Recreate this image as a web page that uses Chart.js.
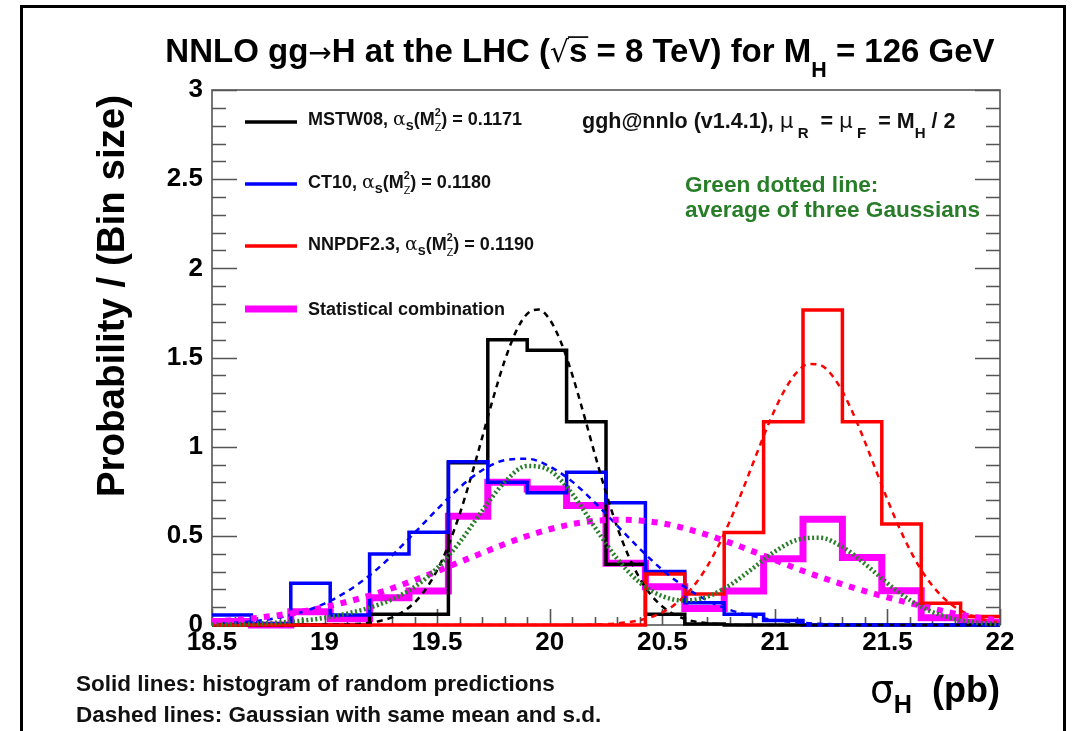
<!DOCTYPE html>
<html>
<head>
<meta charset="utf-8">
<script src="https://cdn.jsdelivr.net/npm/chart.js@4/dist/chart.umd.min.js"></script>
<style>
  html, body { margin: 0; padding: 0; background: #fff; }
  canvas { display: block; }
</style>
</head>
<body>
<canvas id="c" width="1072" height="731"></canvas>
<script>
// Histogram bin edges (20 bins of 0.175 pb between 18.5 and 22 pb)
const binEdges = [18.5, 18.675, 18.85, 19.025, 19.2, 19.375, 19.55, 19.725, 19.9, 20.075, 20.25,
                  20.425, 20.6, 20.775, 20.95, 21.125, 21.3, 21.475, 21.65, 21.825, 22];

// Probability / (bin size) per bin
const mstwHist  = [0, 0, 0, 0, 0.06, 0.06, 0.91, 1.60, 1.54, 1.14, 0.34, 0.06, 0.005, 0, 0, 0, 0, 0, 0, 0];
const ct10Hist  = [0.056, 0.005, 0.234, 0.056, 0.398, 0.52, 0.916, 0.80, 0.742, 0.856, 0.686, 0.30, 0.125, 0.06, 0.025, 0, 0, 0, 0, 0];
const nnpdfHist = [0, 0, 0, 0, 0, 0, 0, 0, 0, 0, 0, 0.286, 0.174, 0.518, 1.14, 1.767, 1.14, 0.566, 0.122, 0.047];
const combHist  = [0.02, 0, 0.075, 0.035, 0.153, 0.19, 0.61, 0.80, 0.763, 0.67, 0.346, 0.215, 0.093, 0.19, 0.372, 0.593, 0.378, 0.192, 0.04, 0.015];

// Gaussian curves sampled along sigma_H
const mstwGaussX = [18.5, 18.7, 18.9, 19.0, 19.1, 19.2, 19.25, 19.3, 19.35, 19.4, 19.45, 19.5, 19.55, 19.6, 19.65,
                    19.7, 19.75, 19.8, 19.85, 19.9, 19.95, 20.0, 20.05, 20.1, 20.15, 20.2, 20.25, 20.3, 20.35, 20.4,
                    20.45, 20.5, 20.55, 20.6, 20.65, 20.7, 20.8, 20.9, 21.1, 21.4, 22.0];
const mstwGaussY = [0, 0, 0, 0.001, 0.003, 0.012, 0.024, 0.043, 0.076, 0.126, 0.202, 0.307, 0.447, 0.622, 0.827,
                    1.051, 1.277, 1.482, 1.645, 1.745, 1.769, 1.713, 1.586, 1.404, 1.188, 0.960, 0.742, 0.548, 0.387, 0.261,
                    0.168, 0.104, 0.061, 0.034, 0.018, 0.010, 0.002, 0, 0, 0, 0];

const gridX = [18.5, 18.6, 18.7, 18.8, 18.9, 19.0, 19.1, 19.2, 19.3, 19.4, 19.5, 19.6, 19.7, 19.8, 19.9, 20.0, 20.1, 20.2,
               20.3, 20.4, 20.5, 20.6, 20.7, 20.8, 20.9, 21.0, 21.1, 21.2, 21.3, 21.4, 21.5, 21.6, 21.7, 21.8, 21.9, 22.0];
const ct10GaussY = [0.006, 0.012, 0.023, 0.042, 0.073, 0.120, 0.188, 0.278, 0.390, 0.517, 0.649, 0.771, 0.868, 0.924, 0.932, 0.889, 0.804, 0.687,
                    0.557, 0.427, 0.310, 0.213, 0.138, 0.085, 0.050, 0.027, 0.014, 0.007, 0.003, 0.001, 0, 0, 0, 0, 0, 0];
const combGaussY = [0.020, 0.028, 0.040, 0.056, 0.075, 0.100, 0.130, 0.165, 0.206, 0.252, 0.301, 0.353, 0.404, 0.454, 0.499, 0.537, 0.566, 0.584,
                    0.590, 0.586, 0.570, 0.542, 0.505, 0.462, 0.414, 0.365, 0.315, 0.270, 0.228, 0.190, 0.155, 0.123, 0.092, 0.064, 0.042, 0.026];
const avgGaussY  = [0.002, 0.004, 0.008, 0.014, 0.024, 0.040, 0.064, 0.097, 0.144, 0.214, 0.319, 0.464, 0.640, 0.802, 0.892, 0.867, 0.736, 0.549,
                    0.371, 0.238, 0.162, 0.137, 0.159, 0.223, 0.316, 0.412, 0.478, 0.489, 0.438, 0.343, 0.234, 0.140, 0.073, 0.033, 0.013, 0.005];

const nnpdfGaussX = [18.5, 19.5, 20.0, 20.2, 20.3, 20.4, 20.45, 20.5, 20.55, 20.6, 20.65, 20.7, 20.75, 20.8, 20.85, 20.9, 20.95, 21.0, 21.05,
                     21.1, 21.15, 21.2, 21.25, 21.3, 21.35, 21.4, 21.45, 21.5, 21.55, 21.6, 21.65, 21.7, 21.75, 21.8, 21.85, 21.9, 21.95, 22.0];
const nnpdfGaussY = [0, 0, 0, 0.002, 0.009, 0.027, 0.044, 0.071, 0.109, 0.164, 0.236, 0.330, 0.446, 0.582, 0.735, 0.897, 1.059, 1.208, 1.332,
                     1.420, 1.464, 1.459, 1.406, 1.310, 1.179, 1.027, 0.864, 0.703, 0.553, 0.421, 0.309, 0.220, 0.151, 0.100, 0.065, 0.040, 0.024, 0.014];

// Axis ticks
const xTickValues = [18.5, 19, 19.5, 20, 20.5, 21, 21.5, 22];
const xTickLabels = ['18.5', '19', '19.5', '20', '20.5', '21', '21.5', '22'];
const yTickValues = [0, 0.5, 1, 1.5, 2, 2.5, 3];
const yTickLabels = ['0', '0.5', '1', '1.5', '2', '2.5', '3'];

const SANS = '"Liberation Sans", Arial, Helvetica, sans-serif';
const SERIF = '"DejaVu Serif", "Liberation Serif", serif';
const DJV = '"DejaVu Sans", sans-serif';
const GREEN = 'rgb(40,125,40)';

const histPoints = vals => binEdges.map((x, i) => ({ x, y: vals[Math.min(i, vals.length - 1)] }));
const curvePoints = (xs, ys) => xs.map((x, i) => ({ x, y: ys[i] }));

function hist(vals, color, width, order) {
  return { data: histPoints(vals), borderColor: color, borderWidth: width, stepped: 'before',
           fill: false, pointRadius: 0, order, clip: false, borderCapStyle: 'butt', borderJoinStyle: 'miter' };
}
function curve(xs, ys, color, width, dash, order) {
  return { data: curvePoints(xs, ys), borderColor: color, borderWidth: width, borderDash: dash,
           cubicInterpolationMode: 'monotone', fill: false, pointRadius: 0, order, clip: false, borderCapStyle: 'butt' };
}

// Rich text with sub/superscripts
function richWidth(ctx, parts, size) {
  let w = 0;
  for (const p of parts) {
    const q = typeof p === 'string' ? { t: p } : p;
    ctx.font = `${q.w || 'bold'} ${size * (q.s || 1)}px ${q.f || SANS}`;
    if (q.adv !== false) w += (q.pre || 0) * size + ctx.measureText(q.t).width + (q.gap || 0) * size;
  }
  return w;
}
function drawRich(ctx, parts, x, y, size, color, align) {
  let cx = x;
  if (align === 'center') cx -= richWidth(ctx, parts, size) / 2;
  if (align === 'right') cx -= richWidth(ctx, parts, size);
  ctx.textAlign = 'left';
  ctx.textBaseline = 'alphabetic';
  ctx.fillStyle = color;
  for (const p of parts) {
    const q = typeof p === 'string' ? { t: p } : p;
    const fs = size * (q.s || 1);
    ctx.font = `${q.w || 'bold'} ${fs}px ${q.f || SANS}`;
    const tw = ctx.measureText(q.t).width;
    const px = cx + (q.pre || 0) * size;
    const py = y + (q.dy || 0) * size;
    ctx.fillText(q.t, px, py);
    if (q.over) ctx.fillRect(px - 1, py - fs * 0.78, tw + 2, Math.max(1.5, fs * 0.05));
    if (q.adv !== false) cx = px + tw + (q.gap || 0) * size;
  }
}

const legendRows = [
  { color: '#000000', width: 3.5, y: 122, ty: 125,
    parts: ['MSTW08, ', { t: 'α', f: SERIF, w: 'normal', s: 1.05 }, { t: 's', s: 0.8, dy: 0.3 }, '(M',
            { t: '2', s: 0.6, dy: -0.5, adv: false }, { t: 'Z', s: 0.6, dy: 0.35, w: 'normal' }, ') = 0.1171'] },
  { color: '#0000ff', width: 3.5, y: 184, ty: 188,
    parts: ['CT10, ', { t: 'α', f: SERIF, w: 'normal', s: 1.05 }, { t: 's', s: 0.8, dy: 0.3 }, '(M',
            { t: '2', s: 0.6, dy: -0.5, adv: false }, { t: 'Z', s: 0.6, dy: 0.35, w: 'normal' }, ') = 0.1180'] },
  { color: '#ff0000', width: 3.5, y: 246, ty: 250,
    parts: ['NNPDF2.3, ', { t: 'α', f: SERIF, w: 'normal', s: 1.05 }, { t: 's', s: 0.8, dy: 0.3 }, '(M',
            { t: '2', s: 0.6, dy: -0.5, adv: false }, { t: 'Z', s: 0.6, dy: 0.35, w: 'normal' }, ') = 0.1190'] },
  { color: '#ff00ff', width: 7, y: 309, ty: 315, parts: ['Statistical combination'] }
];

const decor = {
  id: 'decor',
  beforeDatasetsDraw(chart) {
    const ctx = chart.ctx;
    const { left, right, top, bottom } = chart.chartArea;
    const xs = chart.scales.x, ys = chart.scales.y;
    ctx.save();
    ctx.strokeStyle = '#555';
    ctx.lineWidth = 1.6;
    ctx.strokeRect(left, top, right - left, bottom - top);
    ctx.beginPath();
    for (let k = 0; k <= 30; k++) {
      const py = Math.round(ys.getPixelForValue(k / 10)) + 0.5;
      const len = k % 5 === 0 ? 25 : 14;
      ctx.moveTo(left, py); ctx.lineTo(left + len, py);
      ctx.moveTo(right, py); ctx.lineTo(right - len, py);
    }
    for (let k = 0; k <= 35; k++) {
      const px = Math.round(xs.getPixelForValue(18.5 + k / 10)) + 0.5;
      const len = k % 5 === 0 ? 16 : 8;
      ctx.moveTo(px, bottom); ctx.lineTo(px, bottom - len);
    }
    ctx.stroke();
    ctx.restore();
  },
  afterDraw(chart) {
    const ctx = chart.ctx;
    ctx.save();
    // outer frame
    ctx.strokeStyle = '#000';
    ctx.lineWidth = 3;
    ctx.strokeRect(21.5, 6.5, 1043, 740);

    // title
    drawRich(ctx, ['NNLO gg', { t: '→', f: DJV, w: 'normal', s: 0.85 }, 'H at the LHC (',
                   { t: '√', f: DJV, w: 'normal', s: 0.9 }, { t: 's', over: true }, ' = 8 TeV) for M',
                   { t: 'H', s: 0.65, dy: 0.45 }, ' = 126 GeV'], 580, 62, 33, '#000', 'center');

    // legend
    for (const r of legendRows) {
      ctx.strokeStyle = r.color;
      ctx.lineWidth = r.width;
      ctx.beginPath(); ctx.moveTo(245, r.y); ctx.lineTo(297, r.y); ctx.stroke();
      drawRich(ctx, r.parts, 308, r.ty, 18, '#111', 'left');
    }

    // generator label
    drawRich(ctx, ['ggh@nnlo (v1.4.1), ', { t: 'μ', f: DJV, w: 'normal' }, { t: 'R', s: 0.7, dy: 0.45, pre: 0.2 },
                   '  = ', { t: 'μ', f: DJV, w: 'normal' }, { t: 'F', s: 0.7, dy: 0.45, pre: 0.2 }, '  = M',
                   { t: 'H', s: 0.7, dy: 0.45 }, ' / 2'], 582, 128, 21.5, '#111', 'left');

    // green note
    drawRich(ctx, ['Green dotted line:'], 685, 192, 22.6, GREEN, 'left');
    drawRich(ctx, ['average of three Gaussians'], 685, 217, 22.6, GREEN, 'left');

    // axis titles
    ctx.save();
    ctx.translate(124, 296);
    ctx.rotate(-Math.PI / 2);
    drawRich(ctx, ['Probability / (Bin size)'], 0, 0, 38.5, '#000', 'center');
    ctx.restore();
    drawRich(ctx, [{ t: 'σ', f: DJV, w: 'normal', s: 1.05 }, { t: 'H', s: 0.7, dy: 0.3 }, '  (pb)'], 1000, 702, 36, '#000', 'right');

    // notes
    drawRich(ctx, ['Solid lines: histogram of random predictions'], 76, 691, 22.5, '#111', 'left');
    drawRich(ctx, ['Dashed lines: Gaussian with same mean and s.d.'], 76, 722, 22.5, '#111', 'left');
    ctx.restore();
  }
};

Chart.defaults.font.family = SANS;

new Chart(document.getElementById('c'), {
  type: 'line',
  data: {
    datasets: [
      curve(gridX, avgGaussY, GREEN, 4.5, [2, 2.5], 1),
      curve(gridX, combGaussY, '#ff00ff', 6, [6, 7], 2),
      curve(nnpdfGaussX, nnpdfGaussY, '#ff0000', 2.5, [6, 5], 3),
      curve(gridX, ct10GaussY, '#0000ff', 2.5, [6, 5], 4),
      curve(mstwGaussX, mstwGaussY, '#000000', 2.5, [6, 5], 5),
      hist(nnpdfHist, '#ff0000', 3.5, 6),
      hist(ct10Hist, '#0000ff', 3.5, 7),
      hist(mstwHist, '#000000', 3.5, 8),
      hist(combHist, '#ff00ff', 7, 9)
    ]
  },
  options: {
    responsive: false,
    animation: false,
    devicePixelRatio: 1,
    layout: { padding: { left: 0, top: 90, right: 72, bottom: 0 } },
    plugins: { legend: { display: false }, tooltip: { enabled: false }, title: { display: false } },
    elements: { point: { radius: 0 } },
    scales: {
      x: {
        type: 'linear', min: 18.5, max: 22,
        grid: { display: false, drawTicks: false }, border: { display: false },
        afterBuildTicks: s => { s.ticks = xTickValues.map(v => ({ value: v })); },
        afterFit: s => { s.height = 106; },
        ticks: { padding: 2, color: '#000', font: { size: 26, weight: 'bold' }, maxRotation: 0, autoSkip: false,
                 callback: (v, i) => xTickLabels[i] }
      },
      y: {
        type: 'linear', min: 0, max: 3,
        grid: { display: false, drawTicks: false }, border: { display: false },
        afterBuildTicks: s => { s.ticks = yTickValues.map(v => ({ value: v })); },
        afterFit: s => { s.width = 212; },
        ticks: { padding: 9, color: '#000', font: { size: 26, weight: 'bold' }, autoSkip: false,
                 callback: (v, i) => yTickLabels[i] }
      }
    }
  },
  plugins: [decor]
});
</script>
</body>
</html>
